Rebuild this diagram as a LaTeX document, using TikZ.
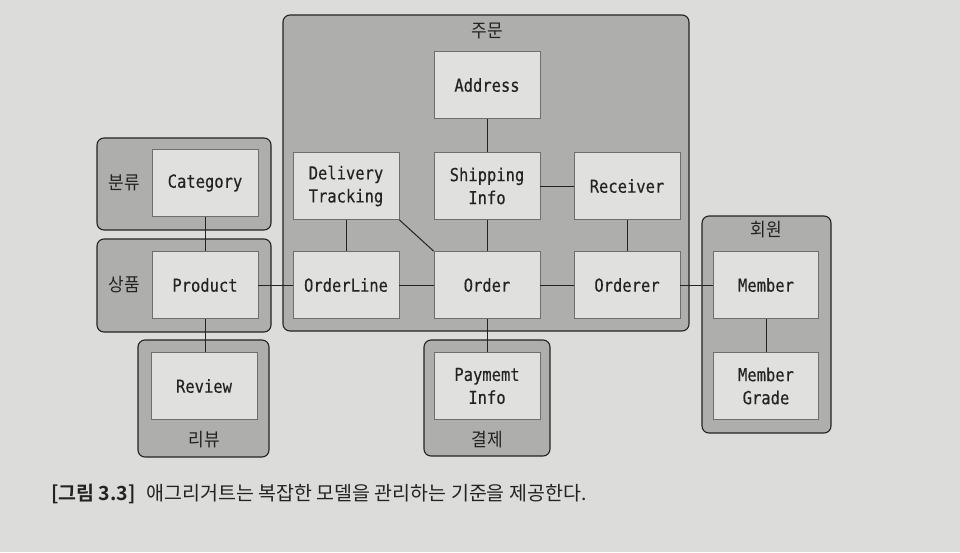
\documentclass[tikz,border=0pt]{standalone}
\usepackage{fontspec}
\setmainfont{DejaVu Sans Mono}
\newfontfamily\boxfont{DejaVu Sans Mono}[FakeStretch=0.86,FakeBold=0.3]
\newfontfamily\kr{Noto Sans CJK KR}
\newfontfamily\krl{Noto Sans CJK KR}[FakeStretch=0.92]
\newfontfamily\krb{Noto Sans CJK KR Bold}
\definecolor{pagebg}{RGB}{220,220,218}
\definecolor{grpfill}{RGB}{174,174,172}
\definecolor{boxfill}{RGB}{224,224,222}
\definecolor{boxline}{RGB}{110,110,108}
\definecolor{ink}{RGB}{35,35,35}
\begin{document}
\begin{tikzpicture}[x=1pt,y=-1pt,
  grp/.style={draw=ink,line width=1.1pt,fill=grpfill,rounded corners=7pt},
  ent/.style={draw=boxline,line width=0.8pt,fill=boxfill,minimum width=106pt,minimum height=67pt,inner sep=0pt,align=center,font=\boxfont\fontsize{18}{23}\selectfont,text=ink},
  glabel/.style={font=\krl\fontsize{18.5}{21}\selectfont,text=ink,inner sep=0pt},
  link/.style={draw=ink,line width=1pt}]
\fill[pagebg] (0,0) rectangle (960,552);
\useasboundingbox (0,0) rectangle (960,552);
% groups
\draw[grp] (283,15) rectangle (689,331);
\draw[grp] (97,138) rectangle (271,230);
\draw[grp] (97,239) rectangle (271,332);
\draw[grp] (138,340) rectangle (269,457);
\draw[grp] (424,340) rectangle (550,456);
\draw[grp] (702,216) rectangle (831,433);
% group labels
\node[glabel] (lorder) at (487,31) {주문};
\node[glabel] (lcat) at (124,183) {분류};
\node[glabel] (lprod) at (124,285) {상품};
\node[glabel] (lrev) at (204,440) {리뷰};
\node[glabel] (lpay) at (487,440) {결제};
\node[glabel] (lmem) at (766,230) {회원};
% entities
\node[ent] (address) at (487,85) {Address};
\node[ent] (delivery) at (346,186) {Delivery\\Tracking};
\node[ent] (shipping) at (487,186) {Shipping\\Info};
\node[ent] (receiver) at (627,186) {Receiver};
\node[ent] (orderline) at (346,285) {OrderLine};
\node[ent] (order) at (487,285) {Order};
\node[ent] (orderer) at (627,285) {Orderer};
\node[ent] (category) at (205,183) {Category};
\node[ent] (product) at (205,285) {Product};
\node[ent] (review) at (204,386) {Review};
\node[ent] (payment) at (487,386) {Paymemt\\Info};
\node[ent,minimum width=105pt] (member) at (766,285) {Member};
\node[ent,minimum width=105pt] (grade) at (766,386) {Member\\Grade};
% connectors
\draw[link] (category.south) -- (product.north);
\draw[link] (product.south) -- (review.north -| product.south);
\draw[link] (product.east) -- (orderline.west);
\draw[link] (orderline.east) -- (order.west);
\draw[link] (order.east) -- (orderer.west);
\draw[link] (orderer.east) -- (member.west);
\draw[link] (member.south) -- (grade.north);
\draw[link] (order.south) -- (payment.north);
\draw[link] (address.south) -- (shipping.north);
\draw[link] (shipping.south) -- (order.north);
\draw[link] (shipping.east) -- (receiver.west);
\draw[link] (receiver.south) -- (orderer.north);
\draw[link] (delivery.south) -- (orderline.north);
\draw[link] (delivery.south east) -- (order.north west);
% caption
\node[anchor=base west,inner sep=0pt,text=ink] (caption) at (51,500)
  {\fontsize{19.5}{22}\selectfont{\krb [그림 3.3]}\hspace{11pt}{\kr 애그리거트는 복잡한 모델을 관리하는 기준을 제공한다.}};
\end{tikzpicture}
\end{document}
